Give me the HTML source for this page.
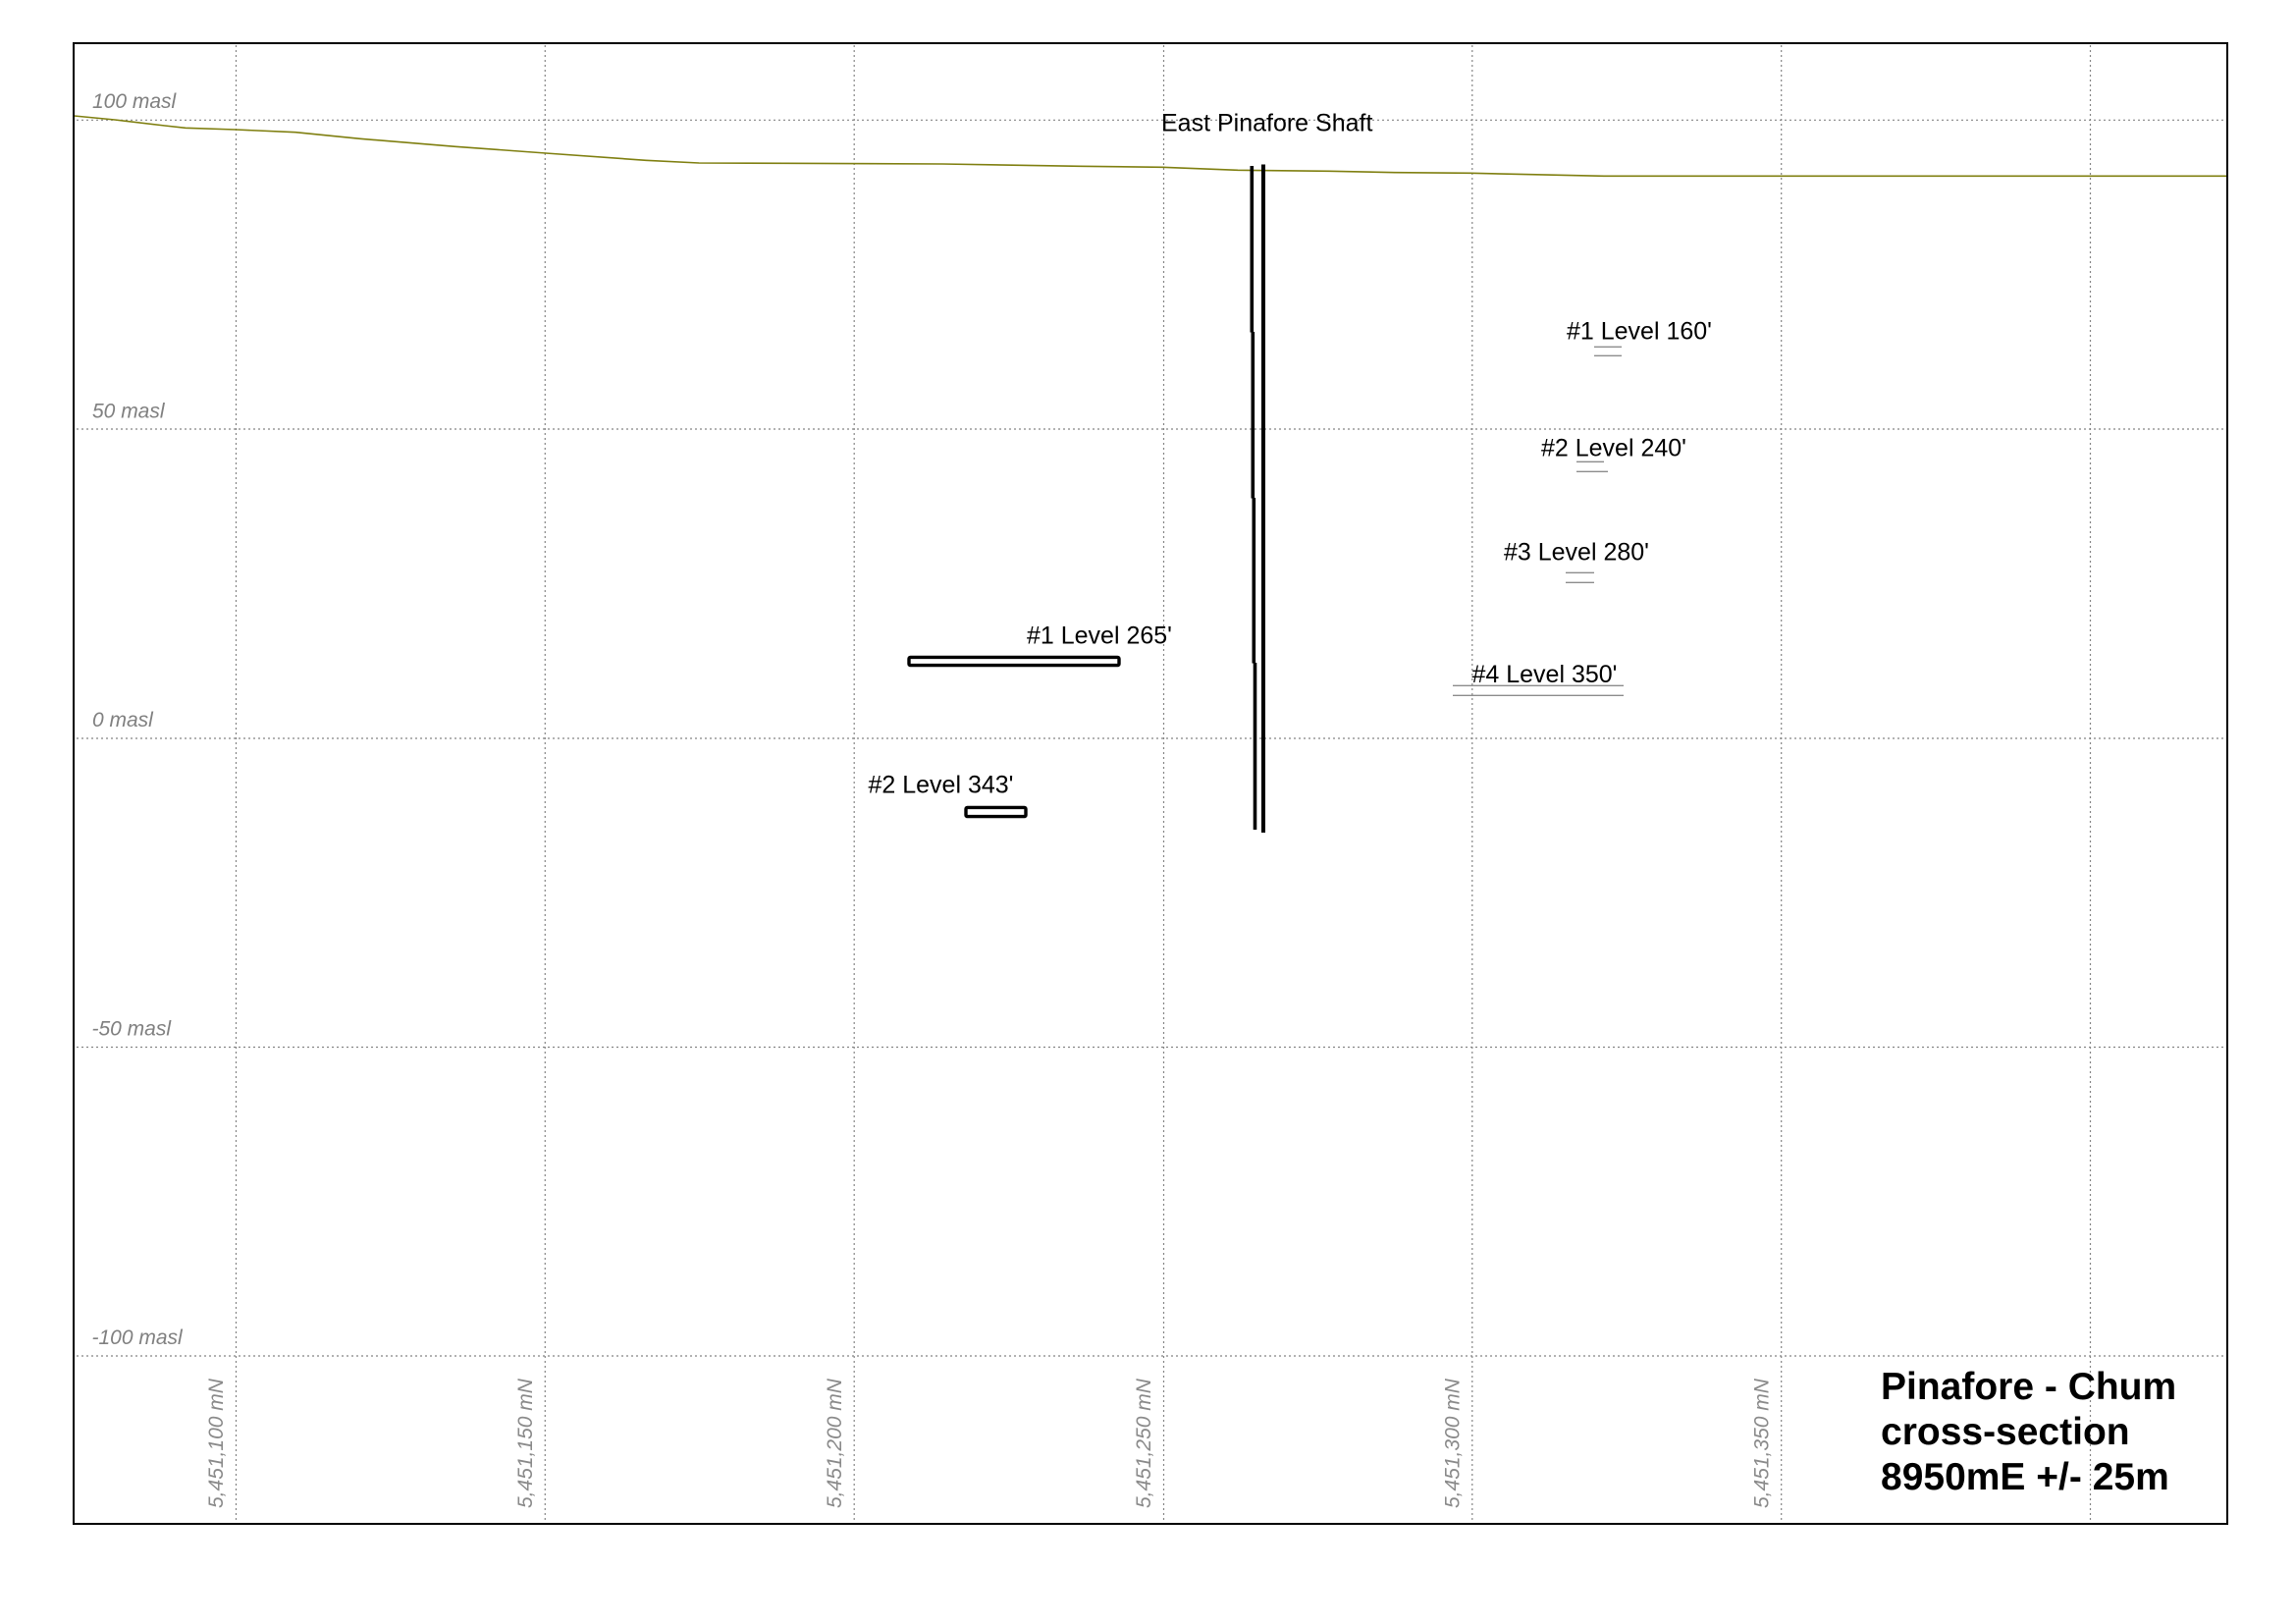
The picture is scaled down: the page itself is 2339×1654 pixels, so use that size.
<!DOCTYPE html>
<html>
<head>
<meta charset="utf-8">
<style>
html,body{margin:0;padding:0;background:#fff;}
svg{display:block;}
text{font-family:"Liberation Sans",Arial,sans-serif;}
.yl{font-size:21px;font-style:italic;fill:#808080;}
.xl{font-size:21px;font-style:italic;fill:#8a8a8a;}
.lv{font-size:25px;fill:#000;}
.tt{font-size:39px;font-weight:bold;fill:#000;}
.g{stroke:#858585;stroke-width:1.2;stroke-dasharray:2 3;fill:none;}
.lvl{stroke:#8c8c8c;stroke-width:1.4;}
</style>
</head>
<body>
<svg width="2339" height="1654" viewBox="0 0 2339 1654" xmlns="http://www.w3.org/2000/svg">
<rect x="0" y="0" width="2339" height="1654" fill="#fff"/>
<!-- grid verticals -->
<g class="g">
<line x1="240.5" y1="46" x2="240.5" y2="1551"/>
<line x1="555.3" y1="46" x2="555.3" y2="1551"/>
<line x1="870.2" y1="46" x2="870.2" y2="1551"/>
<line x1="1185.5" y1="46" x2="1185.5" y2="1551"/>
<line x1="1499.8" y1="46" x2="1499.8" y2="1551"/>
<line x1="1814.7" y1="46" x2="1814.7" y2="1551"/>
<line x1="2129.5" y1="46" x2="2129.5" y2="1551"/>
<!-- horizontals -->
<line x1="78" y1="122.3" x2="2268" y2="122.3"/>
<line x1="78" y1="437" x2="2268" y2="437"/>
<line x1="78" y1="752" x2="2268" y2="752"/>
<line x1="78" y1="1066.5" x2="2268" y2="1066.5"/>
<line x1="78" y1="1381" x2="2268" y2="1381"/>
</g>
<!-- y labels -->
<text class="yl" x="94" y="110">100 masl</text>
<text class="yl" x="94" y="425.5">50 masl</text>
<text class="yl" x="94" y="740">0 masl</text>
<text class="yl" x="93.5" y="1054.5">-50 masl</text>
<text class="yl" x="93.5" y="1369">-100 masl</text>
<!-- x labels -->
<text class="xl" transform="translate(227,1536) rotate(-90)">5,451,100 mN</text>
<text class="xl" transform="translate(542,1536) rotate(-90)">5,451,150 mN</text>
<text class="xl" transform="translate(857,1536) rotate(-90)">5,451,200 mN</text>
<text class="xl" transform="translate(1172,1536) rotate(-90)">5,451,250 mN</text>
<text class="xl" transform="translate(1486.5,1536) rotate(-90)">5,451,300 mN</text>
<text class="xl" transform="translate(1801.5,1536) rotate(-90)">5,451,350 mN</text>
<!-- terrain -->
<polyline fill="none" stroke="#7f7f10" stroke-width="1.6" points="75.5,118 117,122 168,128 189,130.3 240,132 301,134.7 367,141.3 464,149.3 556,156 658,163.3 712,166 800,166.3 960,167 1100,169.3 1184,170.3 1261,173.3 1354,174.3 1421,175.7 1498,176.3 1542,177.3 1588,178.3 1634,179.3 2269,179.3"/>
<!-- shaft -->
<line x1="1287" y1="167.5" x2="1287" y2="848" stroke="#000" stroke-width="4"/>
<line x1="1275.3" y1="169" x2="1275.3" y2="338.5" stroke="#000" stroke-width="3.6"/>
<line x1="1276.3" y1="338" x2="1276.3" y2="507.5" stroke="#000" stroke-width="3.6"/>
<line x1="1277.3" y1="507" x2="1277.3" y2="675.5" stroke="#000" stroke-width="3.6"/>
<line x1="1278.5" y1="675" x2="1278.5" y2="845" stroke="#000" stroke-width="3.6"/>
<text class="lv" x="1183" y="133.3">East Pinafore Shaft</text>
<!-- level 265 -->
<rect x="926" y="669.4" width="214" height="8.2" rx="1.5" fill="none" stroke="#000" stroke-width="3.4"/>
<text class="lv" x="1046" y="655.7">#1 Level 265'</text>
<!-- level 343 -->
<rect x="984" y="822.4" width="61" height="9.2" rx="1.5" fill="none" stroke="#000" stroke-width="3.4"/>
<text class="lv" x="884.5" y="807.7">#2 Level 343'</text>
<!-- right levels -->
<text class="lv" x="1596" y="345.7">#1 Level 160'</text>
<line class="lvl" x1="1624" y1="353.3" x2="1652" y2="353.3"/>
<line class="lvl" x1="1624" y1="362.3" x2="1652" y2="362.3"/>
<text class="lv" x="1570" y="464.3">#2 Level 240'</text>
<line class="lvl" x1="1606" y1="470.3" x2="1634" y2="470.3"/>
<line class="lvl" x1="1606" y1="480.3" x2="1638" y2="480.3"/>
<text class="lv" x="1532" y="570.7">#3 Level 280'</text>
<line class="lvl" x1="1595" y1="583.3" x2="1624" y2="583.3"/>
<line class="lvl" x1="1595" y1="593.3" x2="1624" y2="593.3"/>
<text class="lv" x="1499.5" y="695">#4 Level 350'</text>
<line class="lvl" x1="1480" y1="698.3" x2="1654" y2="698.3"/>
<line class="lvl" x1="1480" y1="708.3" x2="1654" y2="708.3"/>
<!-- title -->
<text class="tt" x="1916" y="1425">Pinafore - Chum</text>
<text class="tt" x="1916" y="1471">cross-section</text>
<text class="tt" x="1916" y="1517">8950mE +/- 25m</text>
<!-- frame -->
<rect x="75" y="44" width="2194" height="1508" fill="none" stroke="#000" stroke-width="2"/>
</svg>
</body>
</html>
